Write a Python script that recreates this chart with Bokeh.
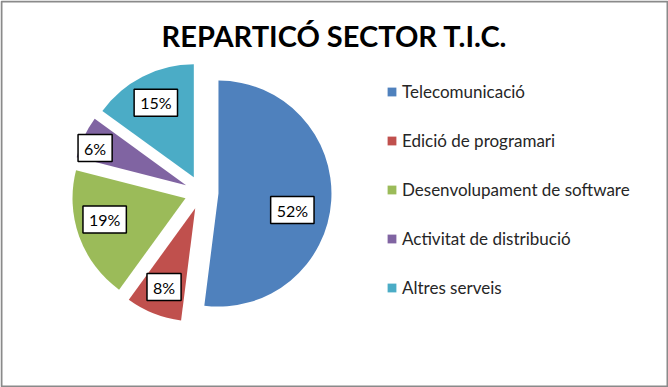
import numpy as np
from bokeh.plotting import figure
from bokeh.models import Range1d, Legend, LegendItem, ColumnDataSource
from bokeh.core.properties import value
from bokeh.embed import file_html
from bokeh.resources import INLINE

# ---- data ----
title_text = "REPARTICÓ SECTOR T.I.C."
categories = ["Telecomunicació", "Edició de programari", "Desenvolupament de software",
              "Activitat de distribució", "Altres serveis"]
shares = [52, 8, 19, 6, 15]
colors = ["#4F81BD", "#C0504D", "#9BBB59", "#8064A2", "#4BACC6"]

# ---- layout ----
W, H = 668, 387
FONT = "Lato"
cx, cy = 201.0, H - 192.0   # pie centre (data units = pixels)
R = 113.0                   # radius
EXPLODE = 17.0              # explosion distance
label_r = [0.67, 0.75, 0.74, 0.87, 0.74]
label_turn = [9, 0, 5, -3, 0]

p = figure(width=W, height=H, x_range=Range1d(0, W), y_range=Range1d(0, H),
           output_backend="svg", toolbar_location=None, min_border=0)
p.xaxis.visible = False
p.yaxis.visible = False
p.grid.visible = False
p.outline_line_color = None
p.background_fill_color = "white"
p.border_fill_color = "white"

vals = np.array(shares, dtype=float)
frac = vals / vals.sum()
cum = np.concatenate([[0.0], np.cumsum(frac)]) * 2 * np.pi
t0, t1 = cum[:-1], cum[1:]          # clockwise from 12 o'clock
mid = (t0 + t1) / 2
xs = cx + EXPLODE * np.sin(mid)
ys = cy + EXPLODE * np.cos(mid)

src = ColumnDataSource(dict(
    x=xs, y=ys, start=np.pi / 2 - t0, end=np.pi / 2 - t1,
    color=colors, cat=categories,
))
wr = p.wedge(x="x", y="y", radius=R, start_angle="start", end_angle="end",
             direction="clock", fill_color="color", line_color=None, source=src)

# data labels
lt = mid + np.radians(label_turn)
lx = xs + np.array(label_r) * R * np.sin(lt)
ly = ys + np.array(label_r) * R * np.cos(lt)
lab_src = ColumnDataSource(dict(x=lx, y=ly, text=[f"{v:.0f}%" for v in frac * 100]))
p.text(x="x", y="y", text="text", source=lab_src, text_align="center",
       text_baseline="middle", text_font=value(FONT), text_font_size="16px",
       text_color="#000000", background_fill_color="white",
       border_line_color="#000000", border_line_width=1.5, padding=(6, 4))

# title
p.text(x=[W / 2], y=[H - 35], text=[title_text], text_align="center",
       text_baseline="middle", text_font=value(FONT), text_font_style="bold",
       text_font_size="29px", text_color="#000000")

# legend
items = [LegendItem(label=c, renderers=[wr], index=i) for i, c in enumerate(categories)]
legend = Legend(items=items, location=(386, 89), orientation="vertical",
                glyph_width=11, glyph_height=11, label_height=20, spacing=28,
                label_standoff=5, padding=0, margin=0, border_line_color=None,
                background_fill_alpha=0, label_text_font=FONT,
                label_text_font_size="17px", label_text_color="#262626")
p.add_layout(legend, "center")

# chart border
p.quad(left=[1], right=[W - 1], bottom=[1], top=[H - 1], fill_color=None,
       line_color="#8a8a8a", line_width=2)

open("out.html", "w").write(file_html(p, INLINE))
